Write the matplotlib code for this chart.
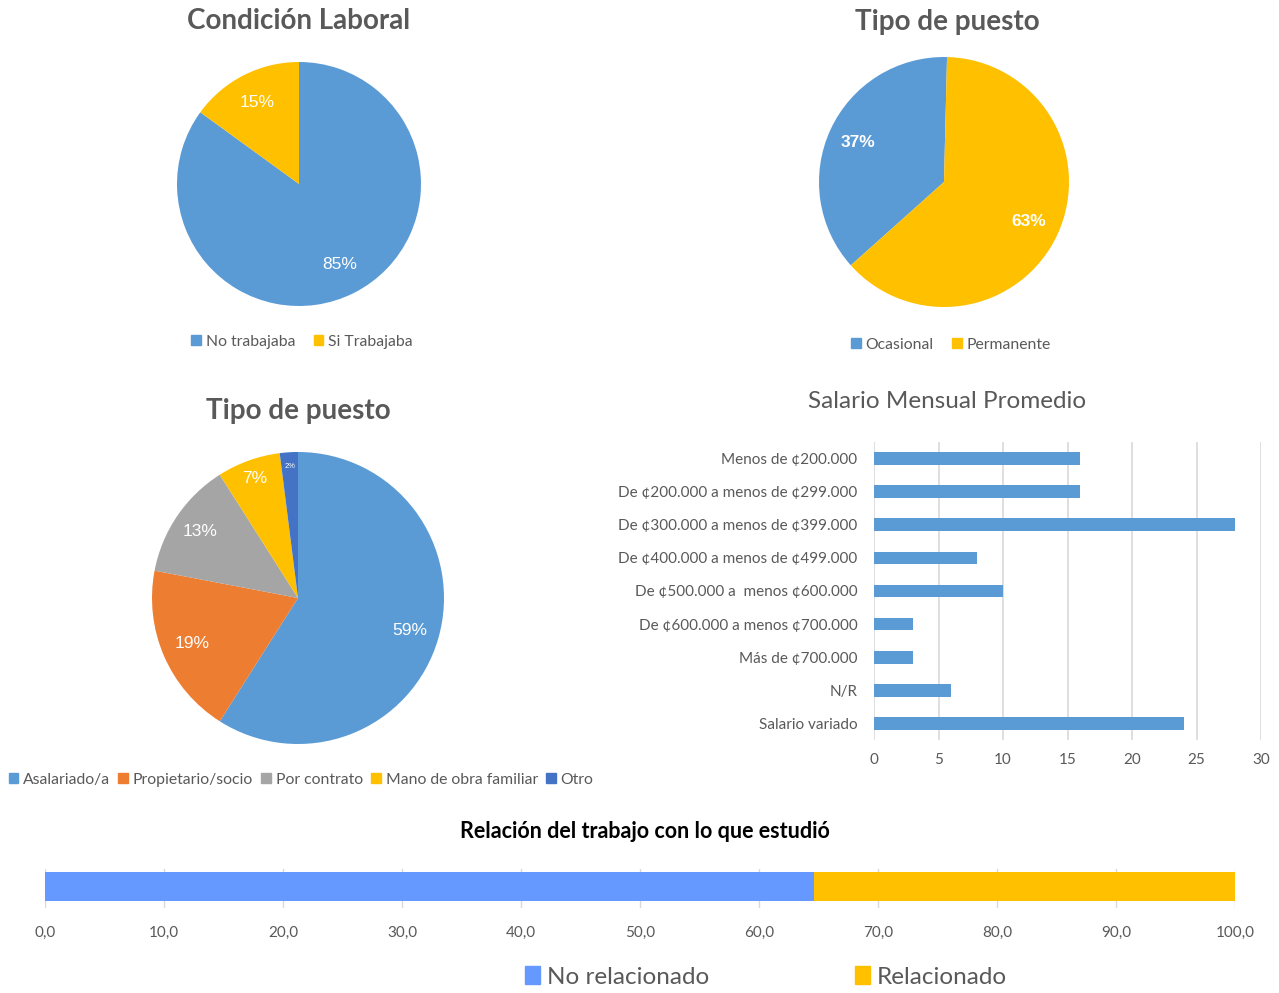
import numpy as np
import matplotlib; matplotlib.use("Agg")
import matplotlib.pyplot as plt
from matplotlib.patches import Patch

plt.rcParams["font.family"] = ["Lato", "DejaVu Sans"]

W, H = 1279, 993
TXT = "#595959"
BLUE, ORANGE, GRAY, YELLOW, DBLUE = "#5B9BD5", "#ED7D31", "#A5A5A5", "#FFC000", "#4472C4"
PCTFONT = ["Liberation Sans", "DejaVu Sans"]

# --- data ---
cond_labels = ["No trabajaba", "Si Trabajaba"]
cond_vals = [85, 15]
puesto_labels = ["Ocasional", "Permanente"]
puesto_vals = [37, 63]
tipo_labels = ["Asalariado/a", "Propietario/socio", "Por contrato", "Mano de obra familiar", "Otro"]
tipo_vals = [59, 19, 13, 7, 2]
sal_labels = ["Menos de ¢200.000", "De ¢200.000 a menos de ¢299.000", "De ¢300.000 a menos de ¢399.000",
              "De ¢400.000 a menos de ¢499.000", "De ¢500.000 a  menos ¢600.000",
              "De ¢600.000 a menos ¢700.000", "Más de ¢700.000", "N/R", "Salario variado"]
sal_vals = [16, 16, 28, 8, 10, 3, 3, 6, 24]
rel_labels = ["No relacionado", "Relacionado"]
rel_vals = [64.6, 35.4]

fig = plt.figure(figsize=(W/100, H/100), dpi=100)

def px_axes(x0, y0, x1, y1):
    return fig.add_axes([x0/W, 1-y1/H, (x1-x0)/W, (y1-y0)/H])

def pie_axes(cx, cy, r):
    return px_axes(cx-r, cy-r, cx+r, cy+r)

def legend_at(handles, labels, cx, cy, fs, **kw):
    kw.setdefault("handlelength", 0.6); kw.setdefault("handleheight", 0.6)
    fig.legend(handles, labels, loc="center", bbox_to_anchor=(cx/W, 1-cy/H), frameon=False,
               ncol=len(labels), fontsize=fs, labelcolor=TXT,
               handletextpad=0.3, borderaxespad=0, **kw)

def pie_labels(ax, wedges, vals, dists, sizes, **kw):
    for w, v, d, fs in zip(wedges, vals, dists, sizes):
        ang = np.deg2rad((w.theta1 + w.theta2) / 2)
        ax.text(d*np.cos(ang), d*np.sin(ang), f"{v}%", ha="center", va="center", color="white",
                fontsize=fs, family=PCTFONT, **kw)
    ax.set_xlim(-1, 1); ax.set_ylim(-1, 1)

# --- Condición Laboral ---
ax1 = pie_axes(299, 184, 122)
c1 = [BLUE, YELLOW]
w1, _ = ax1.pie(cond_vals, colors=c1, startangle=90, counterclock=False, radius=1,
                wedgeprops=dict(linewidth=0))
pie_labels(ax1, w1, cond_vals, [0.74, 0.75], [12.5, 12.5])
fig.text(299/W, 1-21/H, "Condición Laboral", ha="center", va="center", fontsize=20,
         fontweight="bold", color=TXT)
legend_at([Patch(color=c) for c in c1], cond_labels, 302, 342, 11.3, columnspacing=1.2)

# --- Tipo de puesto (2) ---
ax2 = pie_axes(944, 182, 125)
c2 = [BLUE, YELLOW]
w2, _ = ax2.pie(puesto_vals, colors=c2, startangle=88.6, counterclock=True, radius=1,
                wedgeprops=dict(linewidth=0))
pie_labels(ax2, w2, puesto_vals, [0.76, 0.75], [12.5, 12.5], fontweight="bold")
fig.text(947/W, 1-22/H, "Tipo de puesto", ha="center", va="center", fontsize=20,
         fontweight="bold", color=TXT)
legend_at([Patch(color=c) for c in c2], puesto_labels, 951, 345, 11.3, columnspacing=1.2)

# --- Tipo de puesto (5) ---
ax3 = pie_axes(298, 598, 146)
c3 = [BLUE, ORANGE, GRAY, YELLOW, DBLUE]
w3, _ = ax3.pie(tipo_vals, colors=c3, startangle=90, counterclock=False, radius=1,
                wedgeprops=dict(linewidth=0))
pie_labels(ax3, w3, tipo_vals, [0.8, 0.79, 0.81, 0.87, 0.9], [12.5, 12.5, 12.5, 12.5, 5.5])
fig.text(298/W, 1-411/H, "Tipo de puesto", ha="center", va="center", fontsize=20,
         fontweight="bold", color=TXT)
legend_at([Patch(color=c) for c in c3], tipo_labels, 301, 780, 11.3, columnspacing=0.55)

# --- Salario Mensual Promedio ---
ax4 = px_axes(874, 442, 1261, 740)
y = np.arange(len(sal_vals))
ax4.barh(y, sal_vals, height=0.38, color=BLUE, zorder=3)
ax4.set_ylim(len(sal_vals)-0.5, -0.5)
ax4.set_xlim(0, 30)
ax4.set_xticks(range(0, 31, 5))
ax4.set_yticks(y, sal_labels)
ax4.grid(axis="x", color="#D9D9D9", linewidth=1.2, zorder=0)
for s in ax4.spines.values(): s.set_visible(False)
ax4.tick_params(length=0, labelcolor=TXT, labelsize=11)
ax4.tick_params(axis="y", pad=12)
ax4.tick_params(axis="x", pad=9)
fig.text(947/W, 1-402/H, "Salario Mensual Promedio", ha="center", va="center", fontsize=17.5,
         color=TXT)

# --- Relación del trabajo con lo que estudió ---
ax5 = px_axes(45, 869, 1235, 908)
c5 = ["#6699FF", YELLOW]
left = 0
for v, c in zip(rel_vals, c5):
    ax5.barh(0, v, left=left, height=0.74, color=c, zorder=3)
    left += v
ax5.set_xlim(0, 100); ax5.set_ylim(-0.55, 0.45)
ax5.set_xticks(range(0, 101, 10), [f"{t:.1f}".replace(".", ",") for t in range(0, 101, 10)])
ax5.set_yticks([])
ax5.grid(axis="x", color="#D9D9D9", linewidth=1, zorder=0)
for s in ax5.spines.values(): s.set_visible(False)
ax5.tick_params(length=0, labelcolor=TXT, labelsize=11, pad=13)
fig.text(645/W, 1-832/H, "Relación del trabajo con lo que estudió", ha="center", va="center",
         fontsize=15.5, fontweight="bold", color="black")
legend_at([Patch(color=c) for c in c5], rel_labels, 766, 977, 17.5, columnspacing=6,
          handlelength=0.6, handleheight=0.7)

fig.savefig("out.png", dpi=100)
